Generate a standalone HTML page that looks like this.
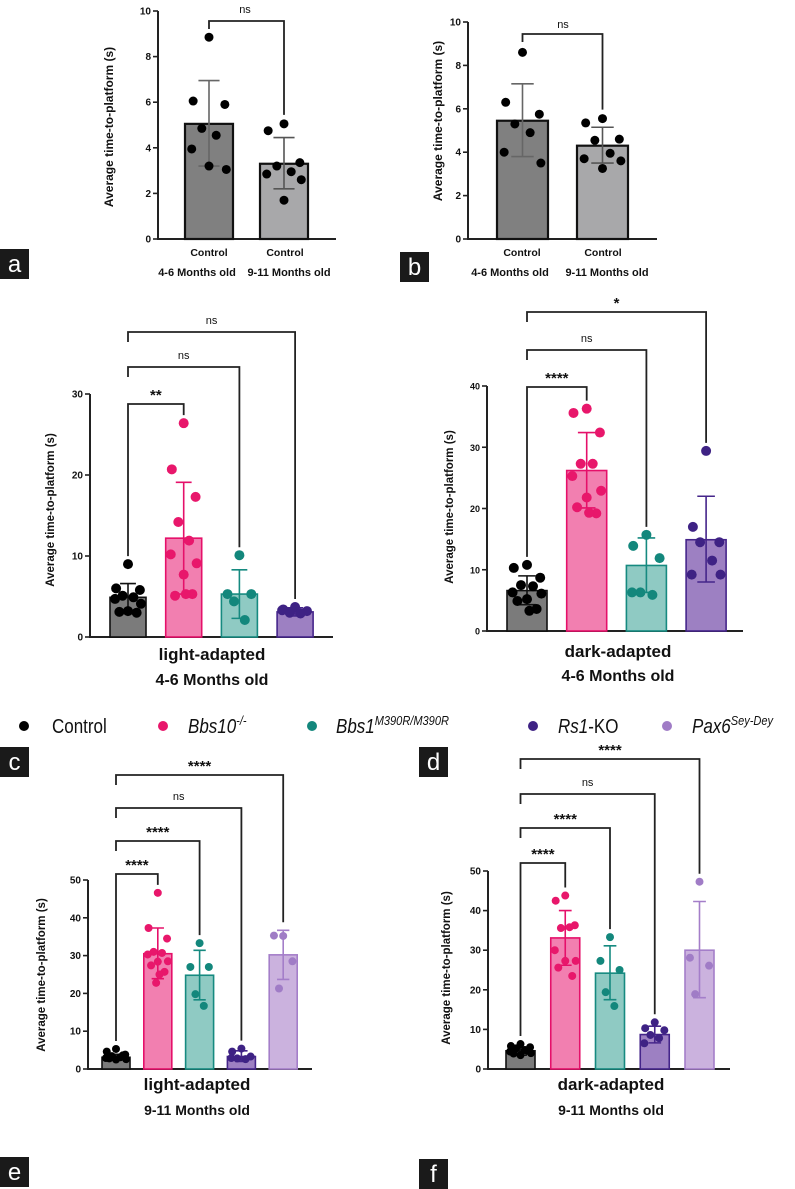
<!DOCTYPE html>
<html><head><meta charset="utf-8">
<style>
html,body{margin:0;padding:0;background:#fff;}
svg{display:block;font-family:"Liberation Sans",Arial,sans-serif;}
</style></head>
<body>
<svg id="fig" width="795" height="1189" viewBox="0 0 795 1189"></svg>
<script>
// ---------- DATA ----------
const aCategories = ["Control","Control"];
const aMeans = [5.05, 3.3];
const aSdHi = [6.95, 4.45];
const aSdLo = [3.2, 2.2];
const aPoints = [[8.85,6.05,5.9,4.85,4.55,3.95,3.05,3.2],[5.05,4.75,3.35,3.2,2.95,2.85,2.6,1.7]];
const aTicks = [0,2,4,6,8,10];

const bCategories = ["Control","Control"];
const bMeans = [5.45, 4.3];
const bSdHi = [7.15, 5.15];
const bSdLo = [3.8, 3.5];
const bPoints = [[8.6,6.3,5.75,5.3,4.9,4.0,3.5],[5.55,5.35,4.6,4.55,3.95,3.7,3.6,3.25]];
const bTicks = [0,2,4,6,8,10];

const cCategories = ["Control","Bbs10","Bbs1","Rs1-KO"];
const cMeans = [4.9, 12.2, 5.3, 3.1];
const cSdHi = [6.6, 19.1, 8.3, 3.6];
const cSdLo = [3.2, 5.3, 2.3, 2.6];
const cPoints = [[9.0,6.0,5.8,5.1,4.9,4.7,4.1,3.2,3.1,3.0],[26.4,20.7,17.3,14.2,11.9,10.2,9.1,7.7,5.1,5.3,5.3],[10.1,5.3,5.3,4.4,2.1],[3.7,3.4,3.2,3.0,2.9,3.3]];
const cTicks = [0,10,20,30];
const cStats = ["**","ns","ns"];

const dCategories = ["Control","Bbs10","Bbs1","Rs1-KO"];
const dMeans = [6.6, 26.2, 10.7, 14.9];
const dSdHi = [9.0, 32.4, 15.2, 22.0];
const dSdLo = [4.3, 20.1, 6.3, 8.0];
const dPoints = [[10.8,10.3,8.7,7.5,7.3,6.3,6.1,5.2,4.9,3.6,3.3],[36.3,35.6,32.4,27.3,27.3,25.3,22.9,21.8,20.2,19.2,19.3],[15.7,13.9,11.9,6.3,5.9,6.3],[29.4,17.0,14.5,14.5,11.5,9.2,9.2]];
const dTicks = [0,10,20,30,40];
const dStats = ["****","ns","*"];

const eCategories = ["Control","Bbs10","Bbs1","Rs1-KO","Pax6"];
const eMeans = [3.1, 30.5, 24.8, 3.3, 30.2];
const eSdHi = [3.9, 37.3, 31.4, 4.8, 36.7];
const eSdLo = [2.4, 23.9, 18.3, 2.0, 23.7];
const ePoints = [[5.3,4.6,3.8,3.4,3.1,2.9,2.6,2.5,2.8,3.6],[46.6,37.3,34.5,31.0,30.7,30.3,28.5,28.4,27.4,25.7,25.0,22.8],[33.3,27.0,27.0,19.8,16.7],[5.4,4.6,3.3,2.8,2.6,2.9],[35.2,35.3,28.5,21.3]];
const eTicks = [0,10,20,30,40,50];
const eStats = ["****","****","ns","****"];

const fCategories = ["Control","Bbs10","Bbs1","Rs1-KO","Pax6"];
const fMeans = [4.6, 33.1, 24.2, 8.7, 30.0];
const fSdHi = [5.5, 40.0, 31.1, 10.8, 42.3];
const fSdLo = [3.5, 26.2, 17.5, 6.6, 18.0];
const fPoints = [[6.3,5.8,5.5,5.2,4.8,4.4,4.0,3.5,3.9,4.6],[43.8,42.5,36.3,35.6,35.8,30.0,27.3,27.3,25.6,23.5],[33.3,27.3,25.0,19.4,15.9],[11.8,10.3,9.8,8.6,7.8,6.5],[47.3,28.1,26.1,18.9]];
const fTicks = [0,10,20,30,40,50];
const fStats = ["****","****","ns","****"];

// ---------- STYLE ----------
const NS = "http://www.w3.org/2000/svg";
const svg = document.getElementById("fig");
const groupStyles = {
  "Control":{fill:"#7b7b7b",stroke:"#111",pt:"#000"},
  "Bbs10":{fill:"#f27fb0",stroke:"#e5106a",pt:"#e8176b"},
  "Bbs1":{fill:"#8fcac3",stroke:"#168a80",pt:"#13877c"},
  "Rs1-KO":{fill:"#9d80c2",stroke:"#45258a",pt:"#3e2284"},
  "Pax6":{fill:"#cbb2de",stroke:"#a47ec9",pt:"#a07cc6"}
};
const jit = [0,-0.33,0.33,-0.15,0.15,-0.36,0.36,0,-0.24,0.24,0.06,-0.06];

function el(tag, attrs, parent){
  const e = document.createElementNS(NS, tag);
  for (const k in attrs) e.setAttribute(k, attrs[k]);
  (parent||svg).appendChild(e);
  return e;
}
function txt(x,y,s,size,weight,anchor,parent,extra){
  const t = el("text",Object.assign({x:x,y:y,"font-size":size,"font-weight":weight||"bold","text-anchor":anchor||"middle",fill:"#111"},extra||{}),parent);
  t.textContent = s;
  return t;
}

function drawPanel(p, cats, means, hi, lo, pts, ticks, stats){
  const g = el("g",{});
  
  
  const yMax = ticks[ticks.length-1];
  const Y = v => p.y0 - v/yMax*(p.y0-p.yTop);
  const BX = i => p.bar0 + i*p.step;
  // axes
  const ax = el("path",{d:`M${p.ax} ${p.yTop} V${p.y0} H${p.axEnd}`,fill:"none",stroke:"#222","stroke-width":2},g);
  
  
  ticks.forEach(t=>{
    el("line",{x1:p.ax-5,x2:p.ax,y1:Y(t),y2:Y(t),stroke:"#222","stroke-width":1.6},g);
    const tl = txt(p.ax-7,Y(t)+3.5,String(t),p.tickSize,"bold","end",g);
    
    
  });
  const yt = txt(0,0,"Average time-to-platform (s)",p.ytSize,"bold","middle",g,{transform:`translate(${p.ytX},${p.ytY}) rotate(-90)`});
  
  
  // bars
  cats.forEach((c,i)=>{
    const st = p.barColors ? p.barColors[i] : groupStyles[c];
    const x = BX(i), w = p.bw, cx = x + w/2;
    const bar = el("rect",{x:x,y:Y(means[i]),width:w,height:p.y0-Y(means[i]),fill:st.fill,stroke:st.stroke,"stroke-width":p.bs},g);
    
    
    const ec = st.err || st.stroke;
    const eb = el("path",{d:`M${cx} ${Y(lo[i])} V${Y(hi[i])} M${cx-w*0.22} ${Y(hi[i])} H${cx+w*0.22} M${cx-w*0.22} ${Y(lo[i])} H${cx+w*0.22}`,stroke:ec,"stroke-width":1.6,fill:"none"},g);
    
    
    pts[i].forEach((v,k)=>{
      const dot = el("circle",{cx:cx + jit[k%jit.length]*w, cy:Y(v), r:p.r, fill:st.pt},g);
      
      
    });
  });
  // brackets (control vs each group)
  if (stats){
    stats.forEach((s,j)=>{
      const i = j+1 + (p.skip && j+1>=p.skip ? 1 : 0);
      const tIdx = p.brTargets ? p.brTargets[j] : i;
      const top = p.brTops[j];
      const x1 = BX(0)+p.bw/2, x2 = BX(tIdx)+p.bw/2;
      const tgtMax = Math.max(hi[tIdx], ...pts[tIdx]);
      const leftBottom = (j===0) ? Y(Math.max(hi[0],...pts[0]))-8 : top+10;
      const rightBottom = Y(tgtMax)-8;
      const br = el("path",{d:`M${x1} ${leftBottom} V${top} H${x2} V${rightBottom}`,fill:"none",stroke:"#222","stroke-width":1.8},g);
      
      
      const isNs = s==="ns";
      const lbl = txt((x1+x2)/2, top-(isNs?8:4), s, isNs?11:15, isNs?"normal":"bold","middle",g);
      
      
    });
  }
  return {g,Y,BX};
}

// ---------- PANEL A ----------
const abColors = [{fill:"#808080",stroke:"#111",pt:"#000",err:"#666"},{fill:"#a8a8aa",stroke:"#111",pt:"#000",err:"#555"}];
const pa = drawPanel({name:"panel-a",ax:158,axEnd:336,y0:239,yTop:11,bar0:185,step:75,bw:48,bs:2.2,r:4.5,tickSize:10,ytSize:12,ytX:113,ytY:127,barColors:abColors},aCategories,aMeans,aSdHi,aSdLo,aPoints,aTicks,null);
// panel b
const pb = drawPanel({name:"panel-b",ax:468,axEnd:657,y0:239,yTop:22,bar0:497,step:80,bw:51,bs:2.2,r:4.5,tickSize:10,ytSize:12,ytX:442,ytY:121,barColors:abColors},bCategories,bMeans,bSdHi,bSdLo,bPoints,bTicks,null);
// ab brackets
[[pa,aPoints,aSdHi,21,245,9],[pb,bPoints,bSdHi,34,563,24]].forEach(o=>{
  const [pp,pts,hi,top,lx,ly]=o;
  const x1=pp.BX(0)+(pp===pa?24:25.5), x2=pp.BX(1)+(pp===pa?24:25.5);
  const br=el("path",{d:`M${x1} ${top+8} V${top} H${x2} V${pp.Y(Math.max(...pts[1],hi[1]))-9}`,fill:"none",stroke:"#222","stroke-width":1.8},pp.g);
  
  
  const l=txt(lx,ly+4,"ns",11,"normal","middle",pp.g);
  
  
});
[[pa,209,285,245],[pb,522,603,492]].forEach(o=>{
  const [pp,c1,c2,gx]=o;
  const l1=txt(c1,256,"Control",10.5,"bold","middle",pp.g);  
  const l2=txt(c2,256,"Control",10.5,"bold","middle",pp.g);  
  const l3=txt(c1-12,276,"4-6 Months old",11,"bold","middle",pp.g);  
  const l4=txt(c2+4,276,"9-11 Months old",11,"bold","middle",pp.g);  
});

// ---------- PANEL C/D/E/F ----------
drawPanel({name:"panel-c",ax:90,axEnd:333,y0:637,yTop:394,bar0:110,step:55.7,bw:36,bs:1.6,r:5,tickSize:10,ytSize:11.5,ytX:54,ytY:510,brTops:[404,367,332]},cCategories,cMeans,cSdHi,cSdLo,cPoints,cTicks,cStats);
drawPanel({name:"panel-d",ax:487,axEnd:743,y0:631,yTop:386,bar0:507,step:59.7,bw:40,bs:1.6,r:5,tickSize:9,ytSize:11.5,ytX:453,ytY:507,brTops:[387,350,312]},dCategories,dMeans,dSdHi,dSdLo,dPoints,dTicks,dStats);
drawPanel({name:"panel-e",ax:88,axEnd:312,y0:1069,yTop:880,bar0:102,step:41.8,bw:28,bs:1.6,r:4,tickSize:10,ytSize:11.5,ytX:45,ytY:975,brTops:[874,841,808,775]},eCategories,eMeans,eSdHi,eSdLo,ePoints,eTicks,eStats);
drawPanel({name:"panel-f",ax:488,axEnd:730,y0:1069,yTop:871,bar0:506,step:44.75,bw:29,bs:1.6,r:4,tickSize:10,ytSize:11.5,ytX:450,ytY:968,brTops:[863,828,794,759]},fCategories,fMeans,fSdHi,fSdLo,fPoints,fTicks,fStats);

// titles
[[212,660,685,"light-adapted","4-6 Months old",16],[618,657,681,"dark-adapted","4-6 Months old",16],
 [197,1090,1115,"light-adapted","9-11 Months old",14],[611,1090,1115,"dark-adapted","9-11 Months old",14]].forEach(o=>{
  const t1=txt(o[0],o[1],o[3],17,"bold","middle");  
  const t2=txt(o[0],o[2],o[4],o[5],"bold","middle");  
});

// panel letters
[["a",0,249],["b",400,252],["c",0,747],["d",419,747],["e",0,1157],["f",419,1159]].forEach(o=>{
  const r=el("rect",{x:o[1],y:o[2],width:29,height:30,fill:"#1a1a1a"});
  
  
  const t=txt(o[1]+14.5,o[2]+23,o[0],24,"normal","middle",null,{fill:"#fff"});
  
  
});

// legend
const legend = el("g",{});


const legItems = [["#000",24,52,"Control",null,false],["#e8176b",163,188,"Bbs10","-/-",true],["#13877c",312,336,"Bbs1","M390R/M390R",true],["#3e2284",533,558,"Rs1","-KO",true],["#a07cc6",667,692,"Pax6","Sey-Dey",true]];
legItems.forEach(o=>{
  const c=el("circle",{cx:o[1],cy:726,r:5,fill:o[0]},legend);
  
  
  const t=el("text",{x:o[2],y:733,"font-size":20,fill:"#111","font-style":o[5]?"italic":"normal",textLength:null},legend);
  t.removeAttribute("textLength");
  
  
  const s1=el("tspan",{},t); s1.textContent=o[3];
  if(o[4]){
    if(o[4]==="-KO"){ const s2=el("tspan",{"font-style":"normal"},t); s2.textContent="-KO"; }
    else { const s2=el("tspan",{dy:-8,"font-size":13},t); s2.textContent=o[4]; }
  }
  t.setAttribute("transform",`translate(${o[2]} 0) scale(0.85 1) translate(${-o[2]} 0)`);
});
</script>
</body></html>
